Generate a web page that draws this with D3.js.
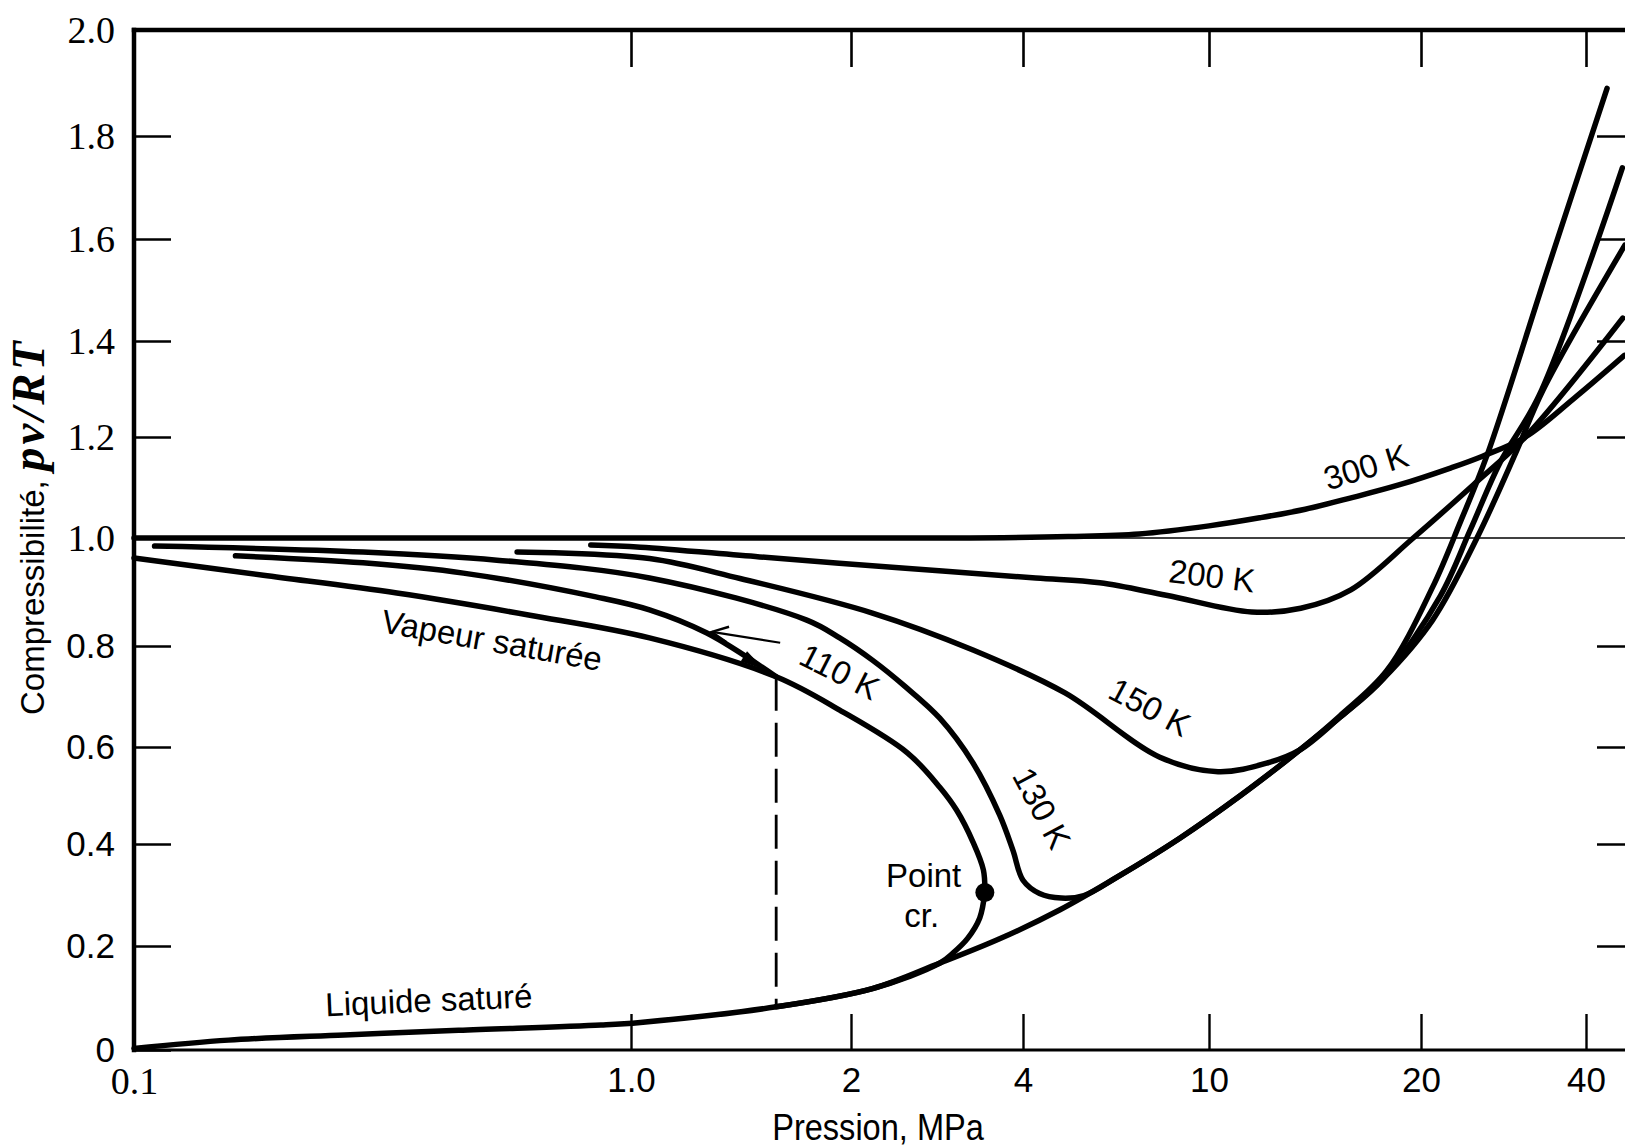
<!DOCTYPE html>
<html>
<head>
<meta charset="utf-8">
<script src="https://cdn.jsdelivr.net/npm/d3@7"></script>
<style>
  body { margin: 0; background: #fff; }
  svg { display: block; background: #fff; }
</style>
</head>
<body>
<div id="chart"></div>
<script>
// axis ticks
var xTicks = [0.1, 1, 2, 4, 10, 20, 40];
var xTickLabels = ['0.1', '1.0', '2', '4', '10', '20', '40'];
var yTicks = [0, 0.2, 0.4, 0.6, 0.8, 1.0, 1.2, 1.4, 1.6, 1.8, 2.0];
var yTickLabels = ['0', '0.2', '0.4', '0.6', '0.8', '1.0', '1.2', '1.4', '1.6', '1.8', '2.0'];

// isotherms, pressure in MPa and Z = pv/RT
var p300 = [0.1, 1, 3, 5, 7.09, 10, 11.8, 13.7, 15.86, 18.6, 22.7, 25.9, 31.0, 38, 47];
var z300 = [1.0, 1.0, 1.0, 1.003, 1.008, 1.024, 1.04, 1.057, 1.079, 1.105, 1.139, 1.162, 1.2, 1.28, 1.37];

var p200 = [0.83, 1.03, 1.5, 2.49, 4.26, 5.84, 8.1, 11.5, 13.5, 15.9, 19.5, 24.9, 31.0, 46.7];
var z200 = [0.987, 0.983, 0.965, 0.944, 0.926, 0.917, 0.894, 0.863, 0.87, 0.904, 1.0, 1.105, 1.2, 1.445];

var p150 = [0.59, 1.06, 1.41, 2.18, 3.27, 4.92, 7.85, 10.3, 12.1, 13.46, 15.35, 17.67, 21.0, 25.3, 29.9, 33.4, 47.1];
var z150 = [0.974, 0.962, 0.925, 0.861, 0.792, 0.707, 0.579, 0.549, 0.567, 0.594, 0.659, 0.735, 0.848, 1.0, 1.173, 1.298, 1.588];

var p130 = [0.11, 0.289, 0.537, 1.06, 1.74, 1.93, 2.18, 2.48, 2.86, 3.27, 3.64, 3.84, 4.0, 4.34, 4.83, 5.4, 6.41, 8.66, 11.06, 13.46, 15.35, 17.67, 21.7, 24.6, 27.9, 32.9, 46.6];
var z130 = [0.985, 0.974, 0.959, 0.926, 0.848, 0.815, 0.772, 0.721, 0.657, 0.567, 0.46, 0.388, 0.329, 0.303, 0.294, 0.299, 0.337, 0.412, 0.499, 0.594, 0.659, 0.735, 0.893, 1.016, 1.15, 1.288, 1.738];

var p110v = [0.16, 0.289, 0.46, 0.85, 1.06, 1.27, 1.58];
var z110v = [0.967, 0.954, 0.935, 0.891, 0.867, 0.824, 0.739];

var p110l = [1.58, 2.18, 2.86, 3.64, 4.8, 6.41, 8.66, 11.06, 13.46, 15.35, 17.9, 21.0, 23.6, 26.4, 34.0, 43.7];
var z110l = [0.083, 0.118, 0.167, 0.214, 0.271, 0.337, 0.412, 0.499, 0.594, 0.662, 0.752, 0.909, 1.032, 1.164, 1.539, 1.89];

// saturation dome
var pSatV = [0.1, 0.182, 0.338, 0.626, 1.06, 1.58, 1.93, 2.51, 2.86, 3.06, 3.27, 3.41, 3.43];
var zSatV = [0.963, 0.931, 0.898, 0.857, 0.815, 0.739, 0.673, 0.588, 0.517, 0.47, 0.404, 0.349, 0.305];

var pSatL = [0.1, 0.155, 0.265, 0.45, 0.87, 1.03, 1.58, 2.18, 2.86, 3.02, 3.2, 3.36, 3.43];
var zSatL = [0.003, 0.019, 0.029, 0.038, 0.048, 0.053, 0.083, 0.118, 0.167, 0.187, 0.215, 0.255, 0.305];

var critPoint = [3.43, 0.305];
var p110sat = 1.58;        // 110 K saturation pressure (dashed line)
var arrowFrom = [1.60, 0.806];
var arrowTo = [1.29, 0.826];

var W = 1625, H = 1148;
var plotTop = 30, plotBottom = 1050, plotLeft = 134, plotRight = 1631;

var sans = '"Liberation Sans", Arial, sans-serif';
var serif = '"Liberation Serif", "Times New Roman", serif';

// the printed axes are not evenly spaced, so both scales are piecewise
var x = d3.scaleLog().domain(xTicks).range([134, 631, 851, 1023, 1209, 1421, 1586]);
var y = d3.scaleLinear().domain(yTicks).range([1050, 946, 844, 747, 646, 538, 437, 341, 239, 136, 30]);

var svg = d3.select('#chart').append('svg').attr('width', W).attr('height', H);

// thin reference line at Z = 1
svg.append('line')
  .attr('x1', plotLeft).attr('x2', plotRight)
  .attr('y1', y(1)).attr('y2', y(1))
  .attr('stroke', '#000').attr('stroke-width', 1.6);

var line = d3.line()
  .x(function (d) { return x(d[0]); })
  .y(function (d) { return y(d[1]); })
  .curve(d3.curveCatmullRom.alpha(0.5));

var curves = [
  [p300, z300], [p200, z200], [p150, z150], [p130, z130],
  [p110v, z110v], [p110l, z110l], [pSatV, zSatV], [pSatL, zSatL]
];

svg.append('g').selectAll('path').data(curves).enter().append('path')
  .attr('d', function (c) { return line(d3.zip(c[0], c[1])); })
  .attr('fill', 'none')
  .attr('stroke', '#000')
  .attr('stroke-width', 5.5)
  .attr('stroke-linecap', 'round')
  .attr('stroke-linejoin', 'round');

// dashed vertical across the two-phase region at 110 K
svg.append('line')
  .attr('x1', x(p110sat)).attr('x2', x(p110sat))
  .attr('y1', y(z110v[z110v.length - 1])).attr('y2', y(z110l[0]))
  .attr('stroke', '#000').attr('stroke-width', 2.8)
  .attr('stroke-dasharray', '34,12');

// thin arrow pointing at the 110 K curve
var ax0 = x(arrowFrom[0]), ay0 = y(arrowFrom[1]);
var ax1 = x(arrowTo[0]), ay1 = y(arrowTo[1]);
var ang = Math.atan2(ay1 - ay0, ax1 - ax0);
svg.append('line')
  .attr('x1', ax0).attr('y1', ay0).attr('x2', ax1).attr('y2', ay1)
  .attr('stroke', '#000').attr('stroke-width', 2.2);
var barb = 18;
svg.append('path')
  .attr('d', 'M' + (ax1 - barb * Math.cos(ang - 0.45)) + ',' + (ay1 - barb * Math.sin(ang - 0.45)) +
    'L' + ax1 + ',' + ay1 +
    'L' + (ax1 - barb * Math.cos(ang + 0.45)) + ',' + (ay1 - barb * Math.sin(ang + 0.45)))
  .attr('fill', 'none').attr('stroke', '#000').attr('stroke-width', 2.4);

// filled arrowhead on the last stretch of the 110 K vapour branch
var n = p110v.length;
var bx0 = x(p110v[n - 2]), by0 = y(z110v[n - 2]);
var bx1 = x(p110v[n - 1]), by1 = y(z110v[n - 1]);
var bAng = Math.atan2(by1 - by0, bx1 - bx0);
var mx = bx0 + (bx1 - bx0) * 0.68, my = by0 + (by1 - by0) * 0.68;
svg.append('path')
  .attr('d', 'M' + (mx + 12 * Math.cos(bAng)) + ',' + (my + 12 * Math.sin(bAng)) +
    'L' + (mx - 12 * Math.cos(bAng) - 6 * Math.sin(bAng)) + ',' + (my - 12 * Math.sin(bAng) + 6 * Math.cos(bAng)) +
    'L' + (mx - 12 * Math.cos(bAng) + 6 * Math.sin(bAng)) + ',' + (my - 12 * Math.sin(bAng) - 6 * Math.cos(bAng)) + 'Z')
  .attr('fill', '#000');

// critical point
svg.append('circle')
  .attr('cx', x(critPoint[0])).attr('cy', y(critPoint[1]))
  .attr('r', 9.5).attr('fill', '#000');

// frame
function frameLine(x1, y1, x2, y2, w) {
  svg.append('line').attr('x1', x1).attr('y1', y1).attr('x2', x2).attr('y2', y2)
    .attr('stroke', '#000').attr('stroke-width', w).attr('stroke-linecap', 'square');
}
frameLine(plotLeft, plotTop, plotLeft, plotBottom, 4.5);
frameLine(plotLeft, plotTop, plotRight, plotTop, 4.5);
frameLine(plotLeft, plotBottom, plotRight, plotBottom, 3.2);
frameLine(plotRight, plotTop, plotRight, plotBottom, 3);

// axes
var xAxis = d3.axisBottom(x).tickValues(xTicks)
  .tickFormat(function (d, i) { return xTickLabels[i]; })
  .tickSizeInner(-36).tickSizeOuter(0).tickPadding(17);
var gx = svg.append('g').attr('transform', 'translate(0,' + plotBottom + ')').call(xAxis);
gx.select('.domain').remove();
gx.selectAll('.tick line').attr('stroke-width', 2.4);
gx.selectAll('.tick text')
  .attr('font-size', function (d) { return d < 1 ? 38 : 35; })
  .attr('font-family', function (d) { return d < 1 ? serif : sans; })
  .attr('fill', '#000');

var yAxis = d3.axisLeft(y).tickValues(yTicks)
  .tickFormat(function (d, i) { return yTickLabels[i]; })
  .tickSizeInner(-37).tickSizeOuter(0).tickPadding(19);
var gy = svg.append('g').attr('transform', 'translate(' + plotLeft + ',0)').call(yAxis);
gy.select('.domain').remove();
gy.selectAll('.tick line').attr('stroke-width', 2.4);
gy.selectAll('.tick text')
  .attr('font-size', function (d) { return d >= 1 ? 38 : 35; })
  .attr('font-family', function (d) { return d >= 1 ? serif : sans; })
  .attr('fill', '#000');

var gt = svg.append('g').attr('transform', 'translate(0,' + plotTop + ')')
  .call(d3.axisTop(x).tickValues(xTicks.slice(1)).tickFormat('').tickSizeInner(-37).tickSizeOuter(0));
gt.select('.domain').remove();
gt.selectAll('.tick line').attr('stroke-width', 2.6);

var gr = svg.append('g').attr('transform', 'translate(' + plotRight + ',0)')
  .call(d3.axisRight(y).tickValues(yTicks.slice(1, -1).filter(function (d) { return d !== 1; }))
    .tickFormat('').tickSizeInner(-34).tickSizeOuter(0));
gr.select('.domain').remove();
gr.selectAll('.tick line').attr('stroke-width', 2.4);

// axis titles
svg.append('text')
  .attr('transform', 'translate(878,1140) scale(0.88,1)')
  .attr('text-anchor', 'middle')
  .attr('font-family', sans).attr('font-size', 37)
  .text('Pression, MPa');

var yTitle = svg.append('text')
  .attr('transform', 'translate(44,' + (y(0.6) - 32) + ') rotate(-90)')
  .attr('font-family', sans).attr('font-size', 33);
yTitle.append('tspan').text('Compressibilité, ');
yTitle.append('tspan')
  .attr('font-family', serif).attr('font-style', 'italic').attr('font-weight', 'bold')
  .attr('font-size', 47).attr('letter-spacing', 3)
  .text('pv/RT');

// curve annotations (data coordinates)
var notes = [
  { t: '300 K', p: 16.7, z: 1.141, a: -17 },
  { t: '200 K', p: 10.1, z: 0.930, a: 7 },
  { t: '150 K', p: 7.47, z: 0.679, a: 28 },
  { t: '130 K', p: 4.39, z: 0.474, a: 62 },
  { t: '110 K', p: 1.93, z: 0.749, a: 27 },
  { t: 'Vapeur saturée', p: 0.525, z: 0.811, a: 10 },
  { t: 'Liquide saturé', p: 0.392, z: 0.096, a: -2.5 },
  { t: 'Point', p: 2.68, z: 0.339, a: 0 },
  { t: 'cr.', p: 2.66, z: 0.259, a: 0 }
];
svg.append('g').selectAll('text').data(notes).enter().append('text')
  .attr('transform', function (d) { return 'translate(' + x(d.p) + ',' + y(d.z) + ') rotate(' + d.a + ')'; })
  .attr('dy', '0.35em')
  .attr('text-anchor', 'middle')
  .attr('font-family', sans)
  .attr('font-size', 33)
  .text(function (d) { return d.t; });
</script>
</body>
</html>
